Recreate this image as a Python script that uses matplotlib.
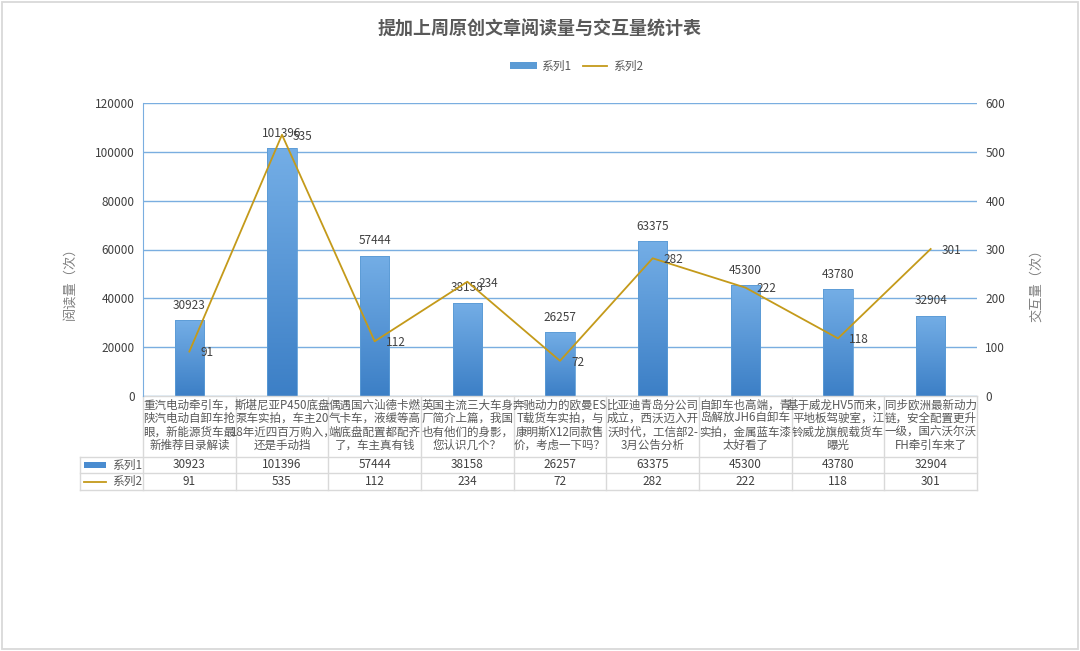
import matplotlib.pyplot as plt
import matplotlib.transforms as mtransforms
import matplotlib.patches as mpatches
from matplotlib.colors import LinearSegmentedColormap
from matplotlib.lines import Line2D
import numpy as np

plt.rcParams['font.family'] = ['Noto Sans CJK SC', 'DejaVu Sans']

title = "提加上周原创文章阅读量与交互量统计表"
categories = [
    "重汽电动牵引车，\n陕汽电动自卸车抢\n眼，新能源货车最\n新推荐目录解读",
    "斯堪尼亚P450底盘\n泵车实拍，车主20\n18年近四百万购入，\n还是手动挡",
    "偶遇国六汕德卡燃\n气卡车，液缓等高\n端底盘配置都配齐\n了，车主真有钱",
    "英国主流三大车身\n厂简介上篇，我国\n也有他们的身影，\n您认识几个？",
    "奔驰动力的欧曼ES\nT载货车实拍，与\n康明斯X12同款售\n价，考虑一下吗？",
    "比亚迪青岛分公司\n成立，西沃迈入开\n沃时代，工信部2-\n3月公告分析",
    "自卸车也高端，青\n岛解放JH6自卸车\n实拍，金属蓝车漆\n太好看了",
    "基于威龙HV5而来，\n平地板驾驶室，江\n铃威龙旗舰载货车\n曝光",
    "同步欧洲最新动力\n链，安全配置更升\n一级，国六沃尔沃\nFH牵引车来了",
]
series1_name = "系列1"
series2_name = "系列2"
reads = [30923, 101396, 57444, 38158, 26257, 63375, 45300, 43780, 32904]
interactions = [91, 535, 112, 234, 72, 282, 222, 118, 301]

W, H = 1080, 651
fig = plt.figure(figsize=(W / 100, H / 100), dpi=100)
fig.patches.append(mpatches.Rectangle((0.0015, 0.0025), 0.997, 0.995, transform=fig.transFigure,
                                      fill=False, edgecolor='#d9d9d9', lw=1.3))

def fx(px):
    return px / W

def fy(py):
    return 1 - py / H

left_px, right_px, top_px, bot_px = 143, 977, 103, 396
ax = fig.add_axes([fx(left_px), fy(bot_px), fx(right_px - left_px), (bot_px - top_px) / H])
ax2 = ax.twinx()

grid_c = '#7aaee0'
txt_c = '#595959'
bar_w = 0.32
x = np.arange(len(reads))

ax.set_xlim(-0.5, len(reads) - 0.5)
ax.set_ylim(0, 120000)
ax.set_yticks(np.arange(0, 120001, 20000))
ax.yaxis.grid(True, color=grid_c, lw=1)
ax.set_axisbelow(True)
ax.set_xticks([])
ax.tick_params(axis='y', length=0, labelsize=8.5, labelcolor='#404040', pad=6)
for s in ['top', 'right', 'bottom']:
    ax.spines[s].set_visible(False)
ax.spines['left'].set_color(grid_c)

cmap = LinearSegmentedColormap.from_list('b', ['#3c7fc6', '#74aee6'])
grad = np.linspace(0, 1, 256).reshape(-1, 1)
bars = ax.bar(x, reads, width=bar_w, color='none', edgecolor='#5b9bd5', lw=0.6, zorder=2)
for b in bars:
    bx = b.get_x()
    im = ax.imshow(grad, extent=[bx, bx + b.get_width(), 0, b.get_height()], origin='lower',
                   cmap=cmap, aspect='auto', zorder=1.9)
    im.set_clip_path(b)
for xi, v in zip(x, reads):
    ax.annotate(str(v), (xi, v), xytext=(0, 6), textcoords='offset points',
                ha='center', va='bottom', fontsize=8.5, color='#404040')

line_c = '#c49a1a'
ax2.plot(x, interactions, color=line_c, lw=1.3, zorder=3)
ax2.set_ylim(0, 600)
ax2.set_yticks(np.arange(0, 601, 100))
ax2.tick_params(axis='y', length=0, labelsize=8.5, labelcolor='#404040', pad=6)
for s in ax2.spines.values():
    s.set_visible(False)
for xi, v in zip(x, interactions):
    ax2.annotate(str(v), (xi, v), xytext=(8, -1), textcoords='offset points',
                 ha='left', va='center', fontsize=8.5, color='#404040')
ax.set_xlim(-0.5, len(reads) - 0.5)

# axis titles
fig.text(fx(71), fy(280), "阅读量（次）", rotation=90, ha='center', va='center',
         fontsize=9.5, color='#808080')
fig.text(fx(1037), fy(282), "交互量（次）", rotation=90, ha='center', va='center',
         fontsize=9.5, color='#808080')

fig.text(0.5, fy(29), title, ha='center', va='center', fontsize=13, color='#595959',
         fontweight='bold')

# legend
fig.patches.append(mpatches.Rectangle((fx(510), fy(69)), fx(27), 7 / H, transform=fig.transFigure,
                                      facecolor='#5b9bd5', edgecolor='none'))
fig.text(fx(541), fy(66), series1_name, ha='left', va='center', fontsize=8.5, color=txt_c)
fig.lines.append(Line2D([fx(583), fx(607)], [fy(66)] * 2, transform=fig.transFigure,
                        color=line_c, lw=1.3))
fig.text(fx(613), fy(66), series2_name, ha='left', va='center', fontsize=8.5, color=txt_c)

# data table below the plot
tr = mtransforms.blended_transform_factory(ax.transData, fig.transFigure)
line_kw = dict(color='#d9d9d9', lw=1, transform=tr, clip_on=False)
n = len(reads)
hdr_left = -0.5 - (left_px - 80) / ((right_px - left_px) / n)
r0, r1, r2, r3 = fy(396), fy(457), fy(473), fy(490)
ax.add_line(Line2D([-0.5, n - 0.5], [r0, r0], **line_kw))
for yy in (r1, r2, r3):
    ax.add_line(Line2D([hdr_left, n - 0.5], [yy, yy], **line_kw))
for i in range(n + 1):
    ax.add_line(Line2D([i - 0.5, i - 0.5], [r0, r3], **line_kw))
ax.add_line(Line2D([hdr_left, hdr_left], [r1, r3], **line_kw))

for i, c in enumerate(categories):
    ax.text(i, (r0 + r1) / 2 + 0.002, c, transform=tr, ha='center', va='center', fontsize=8.3,
            color='#595959', linespacing=1.05, clip_on=False)
for i in range(n):
    ax.text(i, (r1 + r2) / 2, str(reads[i]), transform=tr, ha='center', va='center',
            fontsize=8.5, color='#404040', clip_on=False)
    ax.text(i, (r2 + r3) / 2, str(interactions[i]), transform=tr, ha='center', va='center',
            fontsize=8.5, color='#404040', clip_on=False)

# legend keys inside the table header
fig.patches.append(mpatches.Rectangle((fx(84), fy(468)), fx(22), 6 / H, transform=fig.transFigure,
                                      facecolor='#4a8cd0', edgecolor='none'))
fig.lines.append(Line2D([fx(84), fx(106)], [(r2 + r3) / 2] * 2, transform=fig.transFigure,
                        color=line_c, lw=1.3))
fig.text(fx(112), (r1 + r2) / 2, series1_name, ha='left', va='center', fontsize=8.5, color=txt_c)
fig.text(fx(112), (r2 + r3) / 2, series2_name, ha='left', va='center', fontsize=8.5, color=txt_c)

fig.savefig('out.png', dpi=100)
